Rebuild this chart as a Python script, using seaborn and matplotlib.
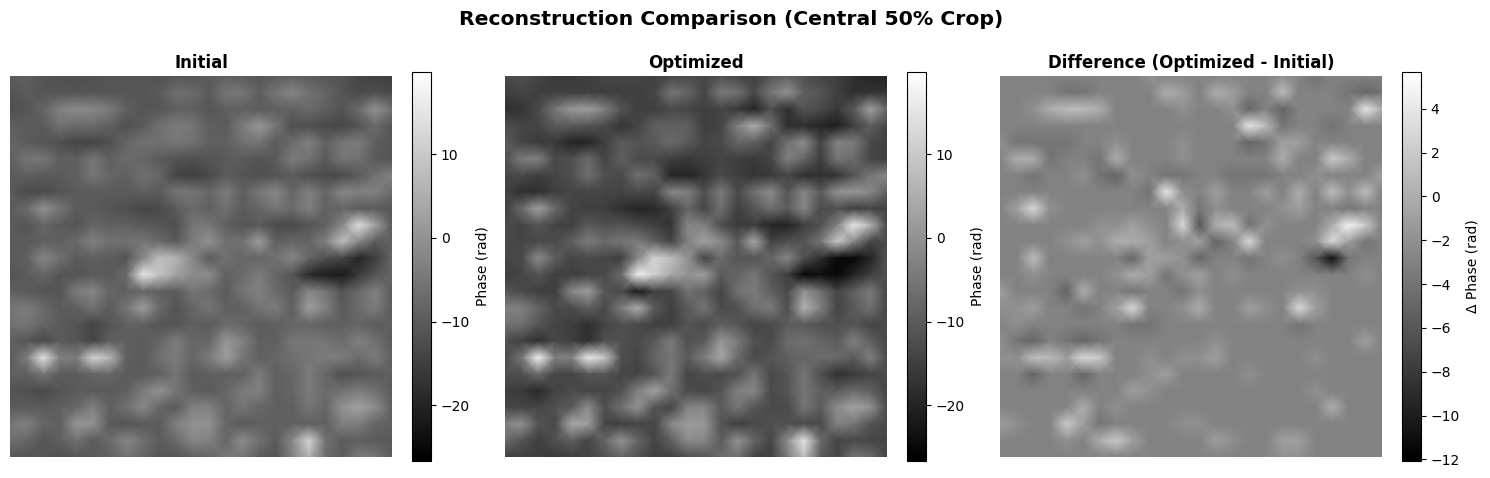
import numpy as np
import matplotlib
matplotlib.use('Agg')
import matplotlib.pyplot as plt
import seaborn as sns

# values, coarse grid (rad)
initial_phase = [
    [-10,-9,-11,-12,-12,-12,-11,-11,-11,-12,-11,-11,-10,-9,-10,-11,-10,-9,-10,-11,-11,-14,-15,-15],
    [-11,-10,-11,-11,-11,-11,-11,-11,-11,-10,-6,-7,-10,-5,-5,-9,-5,-2,-6,-8,-11,-13,-12,-13],
    [-12,-11,-8,-3,-1,-2,-4,-9,-11,-11,-9,-9,-11,-9,-9,-10,-9,-9,-7,-9,-11,-7,0,-6],
    [-9,-10,-10,-6,-7,-7,-9,-12,-10,-6,-4,-5,-9,-10,-4,1,-5,-12,-12,-13,-14,-11,-7,-11],
    [-8,-10,-11,-12,-14,-14,-12,-8,-6,-6,-5,-6,-9,-9,-6,-5,-10,-7,-3,-9,-5,-4,-9,-11],
    [-9,-5,-5,-9,-9,-5,-9,-7,-8,-10,-11,-12,-11,-10,-10,-11,-10,-4,-6,-10,-5,-6,-10,-11],
    [-10,-9,-10,-10,-9,-5,-8,-9,-6,-8,-14,-15,-13,-10,-11,-12,-11,-10,-12,-13,-13,-10,-6,-3],
    [-10,-13,-13,-11,-10,-10,-10,-10,-9,-10,-5,-5,-8,-4,-9,-5,-2,-8,-3,-8,-2,-3,-3,-7],
    [-10,-7,0,-5,-10,-10,-11,-12,-14,-13,-10,-7,-9,-6,-10,-8,-5,-7,-3,-9,-8,-10,-10,-11],
    [-10,-11,-8,-10,-11,-8,-9,-9,-10,-11,-12,-5,-5,-9,-11,-10,-13,-13,-11,-9,-2,14,3,-10],
    [-10,-10,-9,-9,-7,-3,-6,-6,-5,-7,-10,-4,0,-6,-6,2,-9,-8,-8,-3,8,-2,-10,-9],
    [-10,-9,-2,-6,-10,-9,-10,-11,-2,8,6,-2,-10,-6,-8,-8,-6,-2,-8,-12,-14,-20,-15,-8],
    [-11,-10,-8,-11,-11,-10,-10,-7,15,9,3,-1,-1,-9,-7,-4,-8,-11,-19,-21,-22,-16,-11,-8],
    [-9,-10,-11,-11,-4,-2,-8,-9,-8,-9,-10,-5,-7,-10,-5,-3,-7,-10,-2,-5,-11,-7,-3,-10],
    [-5,-4,-7,-10,-9,-6,-10,-5,2,-7,-11,-8,-5,-9,-9,-5,-4,-9,2,-3,-10,-7,-4,-10],
    [-6,-5,-8,-10,-11,-14,-11,-9,-9,-11,-11,-9,-10,-7,-8,-10,-9,-8,-8,-9,-9,-8,-10,-9],
    [-9,-11,-13,-10,-11,-14,-9,-9,-10,-8,-4,-8,-8,1,-3,-9,-9,-5,-5,-5,-7,-3,-6,-10],
    [-10,-4,15,-3,-4,12,7,-9,-10,-6,-4,-8,-4,2,-5,-9,-8,-6,-5,-4,-4,-7,-4,-9],
    [-9,-9,-5,-10,-10,-8,-8,-10,-10,-9,-5,-10,-9,-9,-9,-4,-9,-8,-4,-8,-12,-11,-10,-9],
    [-11,-12,-13,-11,-10,-10,-10,-9,-4,0,-5,-9,-10,-8,-4,-3,-9,-8,-4,-7,-6,-4,-6,-10],
    [-10,-10,-10,-9,-8,-3,-9,-6,-2,-8,-10,-3,-3,-8,-5,-8,-9,-9,-5,-8,0,3,-1,-9],
    [-5,-3,-8,-9,1,0,-10,-11,-10,-10,-3,0,0,-8,-10,-9,-9,-9,-9,-9,-3,-4,-8,-9],
    [-6,-8,-11,-9,-6,-10,-7,-2,-6,-10,-7,-2,-3,-8,-1,-6,-10,-2,12,-6,-10,-9,-10,-10],
    [-11,-11,-11,-12,-11,-10,-9,-6,-8,-11,-11,-9,-8,-5,-5,-10,-11,-3,6,-7,-10,-4,-5,-10],
]

optimized_phase = [
    [-13,-12,-14,-16,-16,-15,-14,-14,-14,-15,-14,-13,-14,-12,-14,-15,-11,-9,-12,-14,-15,-18,-20,-20],
    [-15,-14,-15,-15,-15,-15,-15,-15,-15,-14,-5,-8,-14,-4,-6,-13,-5,0,-9,-11,-15,-18,-17,-17],
    [-18,-17,-13,-5,1,2,-3,-11,-15,-15,-13,-14,-15,-14,-16,-20,-12,-18,-11,-13,-16,-10,3,-8],
    [-12,-14,-14,-10,-10,-11,-13,-17,-14,-9,-9,-9,-15,-14,-3,5,-6,-18,-18,-20,-21,-15,-9,-14],
    [-10,-14,-16,-16,-20,-20,-15,-10,-11,-10,-7,-10,-14,-13,-8,-9,-14,-6,-1,-14,-3,-4,-13,-15],
    [-12,-4,-3,-13,-12,-7,-14,-9,-13,-13,-15,-16,-15,-14,-15,-16,-14,-3,-8,-15,-5,-7,-14,-15],
    [-14,-13,-15,-14,-12,-6,-12,-13,-6,-9,-20,-20,-17,-13,-15,-17,-16,-14,-18,-18,-17,-11,-5,-2],
    [-14,-18,-18,-15,-14,-14,-14,-14,-13,-14,-2,-3,-12,-4,-13,-6,-1,-11,-2,-10,0,1,-2,-9],
    [-15,-7,3,-7,-14,-15,-15,-18,-20,-19,-15,-8,-14,-6,-15,-11,-6,-10,-2,-13,-12,-15,-14,-15],
    [-13,-14,-11,-14,-15,-10,-12,-11,-13,-15,-17,-2,-3,-12,-16,-15,-20,-20,-15,-12,-3,16,6,-13],
    [-13,-14,-13,-13,-9,-4,-7,-5,-4,-9,-14,-3,3,-1,-10,4,-14,-12,-11,-5,10,-2,-14,-13],
    [-14,-13,-1,-9,-14,-13,-14,-15,-2,12,8,0,-14,-7,-11,-11,-8,-2,-12,-18,-25,-25,-20,-11],
    [-15,-14,-11,-15,-15,-14,-13,-7,17,11,4,0,2,-10,-8,-5,-11,-15,-25,-24,-25,-20,-15,-12],
    [-11,-13,-15,-15,-2,2,-11,-13,-22,-15,-14,-6,-9,-14,-6,-4,-9,-13,0,-6,-14,-9,-4,-14],
    [-3,-3,-8,-13,-13,-9,-13,-4,5,-10,-15,-10,-5,-13,-12,-6,-4,-12,6,-3,-14,-10,-6,-14],
    [-6,-6,-11,-14,-15,-18,-14,-12,-13,-15,-15,-11,-13,-9,-11,-14,-13,-10,-10,-12,-12,-11,-14,-13],
    [-12,-15,-18,-13,-15,-18,-12,-12,-13,-10,-4,-12,-10,1,-4,-12,-13,-7,-6,-8,-10,-3,-9,-14],
    [-13,-5,18,-3,-3,16,10,-12,-14,-8,-5,-10,-4,4,-7,-13,-11,-9,-8,-7,-7,-10,-3,-13],
    [-12,-12,-7,-14,-14,-11,-11,-14,-14,-11,-4,-14,-12,-13,-12,-5,-13,-11,-5,-12,-18,-16,-14,-13],
    [-15,-16,-19,-14,-13,-14,-14,-12,-3,3,-6,-13,-14,-11,-3,-2,-13,-11,-5,-9,-10,-7,-9,-14],
    [-14,-14,-14,-12,-10,-1,-12,-6,0,-11,-14,-3,-2,-10,-5,-11,-13,-13,-5,-10,-1,3,0,-13],
    [-3,0,-11,-13,4,2,-14,-15,-14,-14,-2,2,1,-11,-15,-13,-12,-12,-13,-13,-3,-5,-11,-13],
    [-7,-11,-15,-12,-9,-14,-8,0,-8,-14,-9,-1,-2,-10,0,-8,-14,-1,15,-7,-14,-13,-14,-14],
    [-15,-15,-15,-16,-15,-14,-12,-8,-12,-15,-15,-12,-11,-7,-6,-14,-15,-4,8,-10,-14,-5,-7,-14],
]

difference_phase = [
    [-3,-3,-3,-3,-3,-3,-3,-3,-3,-2,-3,-3,-3,-3,-3,-3,-3,-2,-3,-4,-3,-3,-3,-3],
    [-3,-3,-3,-3,-4,-4,-3,-3,-3,-3,0,-1,-3,0,-1,-3,-3,1,-3,-3,-3,-4,-5,-4],
    [-3,-3,-2,0,1,1,0,-3,-3,-3,-3,-2,-3,-3,-2,-5,-3,-5,-3,-3,-3,-3,4,0],
    [-3,-3,-3,-3,-3,-3,-3,-3,-3,-3,-3,-3,-3,-3,-3,4,1,-4,-3,-3,-4,-3,-3,-3],
    [-2,-4,-4,-4,-4,-3,-3,-2,-3,-3,-3,-2,-3,-3,-3,-5,-4,-1,-1,-3,-3,-3,-3,-3],
    [-3,0,0,-4,-3,-3,-4,0,-3,-3,-3,-2,-3,-3,-3,-3,-3,0,-3,-3,2,0,-3,-3],
    [-3,-3,-4,-3,-3,-2,-4,-5,-2,-3,-4,-4,-3,-3,-4,-4,-4,-3,-3,-2,-3,-3,-3,-1],
    [-3,-3,-3,-3,-3,-3,-3,-3,-3,-4,4,-2,-3,-1,-3,-3,-1,-3,0,-3,1,-2,1,-3],
    [-3,-1,3,-2,-3,-3,-3,-3,-3,-3,-3,0,-4,-2,-3,-3,-3,-2,-1,-3,-3,-4,-3,-3],
    [-3,-3,-3,-3,-3,-3,-2,-2,-1,-2,-3,3,-6,0,1,-4,-2,-3,-3,-3,0,5,2,-3],
    [-3,-3,-3,-3,-2,-1,-2,0,0,-1,-3,-2,-1,-5,-3,3,-3,-3,-3,-2,3,-1,-4,-3],
    [-3,-3,1,-3,-3,-3,-3,-3,-5,-1,-1,-2,-5,-3,-3,-4,-3,-2,-3,-6,-11,-4,-3,-3],
    [-3,-3,-2,-3,-3,-3,-3,-2,0,-1,-4,-2,-1,-3,-2,-3,-3,-3,-3,-3,-3,-3,-2,-3],
    [-1,-3,-3,-3,-5,0,-3,-3,-4,-3,-3,-4,-2,-3,-3,-3,-3,-3,-2,-2,-3,-3,-3,-3],
    [-2,-2,-1,-3,-3,-4,-3,-1,3,-3,-3,-2,0,-3,-3,-1,-2,-3,3,-1,-3,-3,-3,-3],
    [-3,-2,-3,-3,-3,-3,-3,-3,-4,-4,-3,-3,-3,-3,-3,-3,-3,-3,-4,-3,-3,-3,-3,-3],
    [-2,-4,-5,-3,-4,-5,-4,-3,-3,-3,-3,-3,-3,-2,-3,-3,-3,-3,-3,-3,-3,-3,-1,-3],
    [-2,-2,1,1,-1,3,2,-3,-3,-2,-3,-2,-2,-1,-3,-3,-3,-3,-3,-2,-3,-3,-3,-3],
    [-3,-3,-5,-3,-3,-5,-3,-3,-3,-2,-1,-3,-3,-3,-3,-2,-3,-3,-3,-3,-3,-3,-3,-3],
    [-3,-3,-3,-3,-3,-3,-3,-3,-1,-2,-3,-3,-3,-3,-3,-3,-3,-3,-3,-2,-3,-3,-3,-3],
    [-3,-3,-3,-3,-3,0,-3,-2,-3,-3,-3,-3,-3,-3,-3,-3,-3,-3,-3,-3,0,-3,-3,-3],
    [-1,-2,-3,-3,2,-1,-4,-3,-3,-3,-3,-2,-2,-3,-3,-3,-3,-3,-3,-3,-3,-3,-3,-3],
    [-3,-3,-3,-3,-2,-3,0,2,-1,-3,-3,-3,-3,-1,-2,-3,-3,-1,-1,-3,-3,-3,-3,-3],
    [-3,-3,-3,-3,-3,-3,-3,-3,-3,-3,-3,-3,-3,-3,-3,-3,-3,-2,-2,-3,-3,-3,-3,-3],
]

panel_titles = ['Initial', 'Optimized', 'Difference (Optimized - Initial)']
cbar_labels = ['Phase (rad)', 'Phase (rad)', 'Δ Phase (rad)']
color_limits = [(-26.6, 19.9), (-26.6, 19.9), (-12.05, 5.7)]
panels = [initial_phase, optimized_phase, difference_phase]

W, H = 1490, 478


def px_axes(fig, x0, y0, x1, y1):
    """axes from pixel box, y measured from the top"""
    return fig.add_axes([x0 / W, (H - y1) / H, (x1 - x0) / W, (y1 - y0) / H])


fig = plt.figure(figsize=(14.9, 4.78), dpi=100)

for i, data in enumerate(panels):
    left = 10 + i * 495
    ax = px_axes(fig, left, 76, left + 382, 457)
    cax = px_axes(fig, left + 402, 71.5, left + 421, 460.5)
    vmin, vmax = color_limits[i]
    values = np.array(data, dtype=float)
    sns.heatmap(values, ax=ax, cbar_ax=cax, cmap='gray', vmin=vmin, vmax=vmax,
                shading='gouraud', cbar_kws={'label': cbar_labels[i]})
    ax.set_xlim(0, values.shape[1] - 1)
    ax.set_ylim(values.shape[0] - 1, 0)
    ax.set_title(panel_titles[i], fontsize=12, fontweight='bold', pad=6)
    ax.set_axis_off()
    cb = ax.collections[0].colorbar
    cb.outline.set_linewidth(0.8)
    cb.outline.set_edgecolor('black')

fig.suptitle('Reconstruction Comparison (Central 50% Crop)', fontsize=14.7,
             fontweight='bold', x=0.4906, y=0.98)
fig.savefig('out.png', dpi=100)
